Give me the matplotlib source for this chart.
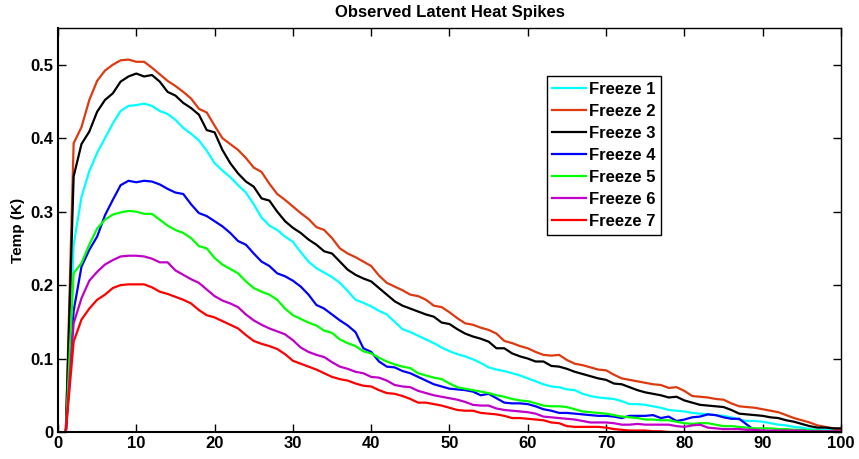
import numpy as np
import matplotlib
matplotlib.use("Agg")
import matplotlib.pyplot as plt

# sample index 1..100
x = np.arange(1, 101)

freeze1 = [0, 0.255, 0.320, 0.355, 0.380, 0.400, 0.420, 0.437, 0.444, 0.445,
           0.447, 0.444, 0.437, 0.433, 0.425, 0.414, 0.406, 0.397, 0.383, 0.366,
           0.356, 0.347, 0.336, 0.326, 0.310, 0.292, 0.281, 0.275, 0.266, 0.259,
           0.245, 0.232, 0.223, 0.217, 0.211, 0.203, 0.192, 0.180, 0.176, 0.171,
           0.165, 0.160, 0.150, 0.140, 0.136, 0.131, 0.126, 0.121, 0.115, 0.110,
           0.106, 0.103, 0.099, 0.094, 0.088, 0.085, 0.083, 0.080, 0.077, 0.073,
           0.069, 0.065, 0.062, 0.061, 0.058, 0.057, 0.052, 0.049, 0.047, 0.046,
           0.045, 0.042, 0.038, 0.038, 0.037, 0.035, 0.033, 0.030, 0.029, 0.028,
           0.026, 0.025, 0.024, 0.023, 0.022, 0.020, 0.017, 0.015, 0.015, 0.014,
           0.012, 0.010, 0.009, 0.007, 0.006, 0.004, 0.003, 0.003, 0.003, 0.002]

freeze2 = [0, 0.393, 0.415, 0.452, 0.478, 0.492, 0.500, 0.506, 0.507, 0.504,
           0.504, 0.496, 0.487, 0.478, 0.471, 0.463, 0.454, 0.440, 0.435, 0.417,
           0.400, 0.392, 0.384, 0.373, 0.360, 0.354, 0.338, 0.324, 0.316, 0.307,
           0.298, 0.290, 0.279, 0.275, 0.264, 0.250, 0.243, 0.238, 0.232, 0.226,
           0.213, 0.203, 0.198, 0.193, 0.187, 0.185, 0.180, 0.172, 0.170, 0.163,
           0.155, 0.148, 0.146, 0.142, 0.139, 0.134, 0.124, 0.121, 0.117, 0.114,
           0.109, 0.105, 0.104, 0.105, 0.098, 0.093, 0.091, 0.088, 0.085, 0.084,
           0.078, 0.073, 0.071, 0.069, 0.067, 0.065, 0.064, 0.060, 0.061, 0.056,
           0.049, 0.048, 0.047, 0.045, 0.044, 0.039, 0.035, 0.034, 0.033, 0.031,
           0.029, 0.027, 0.023, 0.019, 0.016, 0.013, 0.009, 0.007, 0.005, 0.003]

freeze3 = [0, 0.348, 0.392, 0.409, 0.436, 0.452, 0.461, 0.477, 0.484, 0.488,
           0.484, 0.486, 0.477, 0.463, 0.458, 0.448, 0.441, 0.432, 0.411, 0.408,
           0.384, 0.366, 0.352, 0.341, 0.334, 0.318, 0.315, 0.300, 0.287, 0.278,
           0.271, 0.262, 0.255, 0.246, 0.243, 0.232, 0.221, 0.214, 0.209, 0.205,
           0.196, 0.187, 0.178, 0.172, 0.168, 0.164, 0.160, 0.157, 0.149, 0.147,
           0.140, 0.134, 0.130, 0.127, 0.123, 0.114, 0.114, 0.107, 0.103, 0.100,
           0.096, 0.096, 0.090, 0.089, 0.086, 0.082, 0.079, 0.076, 0.073, 0.071,
           0.066, 0.065, 0.061, 0.057, 0.054, 0.052, 0.050, 0.047, 0.048, 0.043,
           0.040, 0.037, 0.036, 0.035, 0.034, 0.030, 0.025, 0.024, 0.023, 0.022,
           0.020, 0.019, 0.016, 0.014, 0.011, 0.008, 0.006, 0.006, 0.005, 0.005]

freeze4 = [0, 0.165, 0.225, 0.248, 0.266, 0.295, 0.316, 0.336, 0.342, 0.340,
           0.342, 0.341, 0.337, 0.331, 0.326, 0.324, 0.310, 0.298, 0.294, 0.287,
           0.280, 0.271, 0.260, 0.255, 0.243, 0.232, 0.226, 0.216, 0.212, 0.206,
           0.198, 0.187, 0.173, 0.168, 0.160, 0.152, 0.145, 0.136, 0.114, 0.109,
           0.096, 0.089, 0.088, 0.083, 0.080, 0.075, 0.070, 0.065, 0.062, 0.059,
           0.058, 0.057, 0.055, 0.050, 0.052, 0.046, 0.040, 0.039, 0.039, 0.038,
           0.035, 0.031, 0.029, 0.026, 0.026, 0.025, 0.024, 0.023, 0.022, 0.022,
           0.021, 0.019, 0.022, 0.022, 0.022, 0.023, 0.019, 0.021, 0.015, 0.017,
           0.020, 0.021, 0.024, 0.023, 0.020, 0.018, 0.018, 0.010, 0.002, 0.001,
           0.001, 0.001, 0.001, 0.001, 0.001, 0.001, 0.001, 0.001, 0.001, 0.001]

freeze5 = [0, 0.216, 0.230, 0.255, 0.277, 0.289, 0.296, 0.299, 0.301, 0.300,
           0.297, 0.297, 0.289, 0.281, 0.275, 0.271, 0.264, 0.253, 0.250, 0.237,
           0.228, 0.222, 0.216, 0.205, 0.196, 0.191, 0.187, 0.180, 0.168, 0.159,
           0.154, 0.149, 0.145, 0.138, 0.135, 0.126, 0.121, 0.117, 0.110, 0.107,
           0.101, 0.096, 0.092, 0.089, 0.087, 0.080, 0.077, 0.074, 0.072, 0.066,
           0.061, 0.059, 0.057, 0.055, 0.053, 0.050, 0.048, 0.045, 0.043, 0.042,
           0.039, 0.036, 0.035, 0.035, 0.034, 0.031, 0.028, 0.027, 0.026, 0.025,
           0.023, 0.021, 0.020, 0.019, 0.017, 0.017, 0.016, 0.016, 0.014, 0.012,
           0.011, 0.012, 0.012, 0.010, 0.008, 0.008, 0.007, 0.006, 0.005, 0.005,
           0.005, 0.004, 0.004, 0.003, 0.003, 0.002, 0.002, 0.001, 0.001, 0.001]

freeze6 = [0, 0.148, 0.182, 0.206, 0.218, 0.228, 0.234, 0.239, 0.240, 0.240,
           0.239, 0.236, 0.231, 0.231, 0.220, 0.214, 0.208, 0.203, 0.194, 0.185,
           0.179, 0.175, 0.170, 0.160, 0.152, 0.146, 0.141, 0.137, 0.133, 0.125,
           0.115, 0.109, 0.105, 0.102, 0.095, 0.089, 0.086, 0.082, 0.080, 0.075,
           0.074, 0.070, 0.064, 0.062, 0.061, 0.056, 0.053, 0.050, 0.048, 0.046,
           0.044, 0.041, 0.037, 0.036, 0.036, 0.032, 0.030, 0.029, 0.028, 0.027,
           0.025, 0.021, 0.020, 0.019, 0.018, 0.017, 0.015, 0.013, 0.013, 0.013,
           0.012, 0.010, 0.010, 0.011, 0.010, 0.010, 0.010, 0.010, 0.008, 0.007,
           0.009, 0.010, 0.006, 0.005, 0.004, 0.004, 0.004, 0.003, 0.003, 0.002,
           0.002, 0.002, 0.002, 0.002, 0.002, 0.001, 0.001, 0.001, 0.001, 0.001]

freeze7 = [0, 0.123, 0.153, 0.168, 0.180, 0.187, 0.196, 0.200, 0.201, 0.201,
           0.201, 0.197, 0.191, 0.188, 0.184, 0.180, 0.175, 0.166, 0.159, 0.156,
           0.151, 0.146, 0.141, 0.132, 0.124, 0.120, 0.117, 0.113, 0.106, 0.097,
           0.093, 0.089, 0.085, 0.080, 0.075, 0.072, 0.070, 0.066, 0.063, 0.062,
           0.057, 0.053, 0.052, 0.049, 0.045, 0.040, 0.040, 0.038, 0.036, 0.033,
           0.030, 0.029, 0.029, 0.026, 0.025, 0.024, 0.022, 0.019, 0.019, 0.018,
           0.017, 0.016, 0.013, 0.012, 0.008, 0.007, 0.007, 0.007, 0.007, 0.006,
           0.004, 0.003, 0.002, 0.002, 0.002, 0.001, 0.001, 0, 0, 0,
           0, 0, 0, 0, 0, 0, 0, 0, 0, 0,
           0, 0, 0, 0, 0, 0, 0, 0, 0, 0]

labels = ["Freeze 1", "Freeze 2", "Freeze 3", "Freeze 4",
          "Freeze 5", "Freeze 6", "Freeze 7"]
colors = ["#00FFFF", "#DD3A10", "#000000", "#0000FF",
          "#00FF00", "#C000C8", "#FF0000"]


def main():
    plt.rcParams["font.family"] = ["Liberation Sans", "DejaVu Sans"]
    plt.rcParams["font.weight"] = "bold"

    fig = plt.figure(figsize=(8.59, 4.59), dpi=100)
    ax = fig.add_axes([0.0675, 0.0588, 0.9115, 0.8802])

    series = [freeze1, freeze2, freeze3, freeze4, freeze5, freeze6, freeze7]
    for ys, lab, col in zip(series, labels, colors):
        ax.plot(x, ys, color=col, linewidth=1.6, label=lab)

    ax.set_xlim(0, 100)
    ax.set_ylim(0, 0.55)
    ax.set_xticks(np.arange(0, 101, 10))
    ax.set_yticks([0, 0.1, 0.2, 0.3, 0.4, 0.5])
    ax.set_yticklabels(["0", "0.1", "0.2", "0.3", "0.4", "0.5"])
    ax.tick_params(direction="in", length=6, width=1, top=True, right=True,
                   labelsize=12, pad=3)
    for lab in ax.get_xticklabels() + ax.get_yticklabels():
        lab.set_fontweight("bold")

    for side in ["left", "bottom"]:
        ax.spines[side].set_linewidth(1.5)
    for side in ["top", "right"]:
        ax.spines[side].set_linewidth(1.0)

    ax.set_title("Observed Latent Heat Spikes", fontsize=12,
                 fontweight="bold", pad=8)
    ax.set_ylabel("Temp (K)", fontsize=11, fontweight="bold", labelpad=4)

    leg = ax.legend(loc="upper left", bbox_to_anchor=(0.624, 0.881),
                    fontsize=12, fancybox=False, framealpha=1,
                    edgecolor="black", handlelength=2.0, handletextpad=0.2,
                    labelspacing=0.42, borderpad=0.35, borderaxespad=0)
    leg.get_frame().set_linewidth(1.0)
    for t in leg.get_texts():
        t.set_fontweight("bold")

    fig.savefig("out.png", dpi=100)


if __name__ == "__main__":
    main()
